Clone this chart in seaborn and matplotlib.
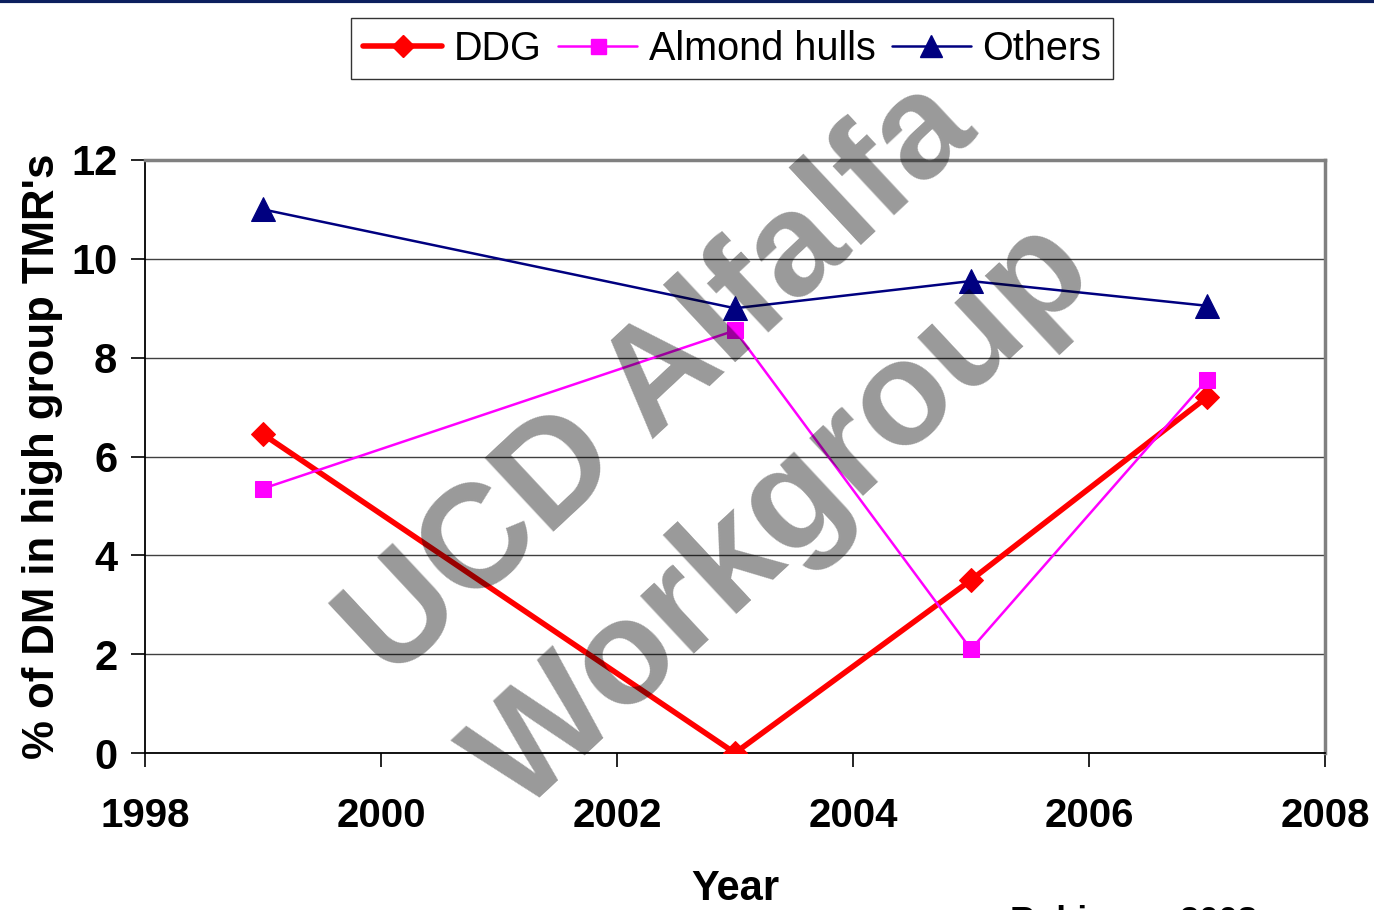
import matplotlib
matplotlib.use("Agg")
import matplotlib.pyplot as plt
import seaborn as sns
import pandas as pd
from matplotlib.lines import Line2D

# --- data ---
years = [1999, 2003, 2005, 2007]
ddg = [6.45, 0.0, 3.5, 7.2]
almond_hulls = [5.35, 8.55, 2.1, 7.55]
others = [11.0, 9.0, 9.55, 9.05]
series_names = ["DDG", "Almond hulls", "Others"]
x_ticks = [1998, 2000, 2002, 2004, 2006, 2008]
y_ticks = [0, 2, 4, 6, 8, 10, 12]

sns.set_theme(style="white")
plt.rcParams['font.family'] = ['Liberation Sans', 'DejaVu Sans']

df = pd.DataFrame({
    "Year": years * 3,
    "value": ddg + almond_hulls + others,
    "series": [n for n in series_names for _ in years],
})

styles = {
    "DDG": dict(color="#ff0000", marker="D", lw=4.0, ms=12),
    "Almond hulls": dict(color="#ff00ff", marker="s", lw=1.8, ms=12),
    "Others": dict(color="#000080", marker="^", lw=1.8, ms=17),
}

fig = plt.figure(figsize=(13.74, 9.10), dpi=100)
ax = fig.add_axes([0.1055, 0.1725, 0.8588, 0.6517])

for name in series_names:
    st = styles[name]
    sub = df[df["series"] == name]
    sns.lineplot(data=sub, x="Year", y="value", ax=ax, color=st["color"],
                 lw=st["lw"], marker=st["marker"], markersize=st["ms"],
                 markeredgecolor=st["color"], legend=False, zorder=3)

ax.set_xlim(1998, 2008)
ax.set_ylim(0, 12)
ax.set_xticks(x_ticks)
ax.set_yticks(y_ticks)
ax.set_xticklabels([str(t) for t in x_ticks], fontsize=29, fontweight="bold", color="black")
ax.set_yticklabels([str(t) for t in y_ticks], fontsize=30, fontweight="bold", color="black")
ax.tick_params(axis="both", direction="out", length=10, width=1.2, color="black",
               bottom=True, left=True)
ax.tick_params(axis="x", pad=22)
ax.tick_params(axis="y", pad=10)

ax.yaxis.grid(True, color="#404040", lw=1.0)
ax.set_axisbelow(True)
for side in ["left", "bottom"]:
    ax.spines[side].set_color("black")
    ax.spines[side].set_linewidth(1.3)
for side in ["top", "right"]:
    ax.spines[side].set_color("#808080")
    ax.spines[side].set_linewidth(2.5)

ax.set_xlabel("Year", fontsize=30, fontweight="bold", color="black", labelpad=24)
ax.set_ylabel("% of DM in high group TMR's", fontsize=31.5, fontweight="bold",
              color="black", labelpad=6)

# legend
handles = [Line2D([0], [0], color=styles[n]["color"], lw=styles[n]["lw"],
                  marker=styles[n]["marker"], ms=styles[n]["ms"] * 0.9,
                  markeredgecolor=styles[n]["color"]) for n in series_names]
leg = fig.legend(handles, series_names, loc="center", bbox_to_anchor=(0.533, 0.9467),
                 ncol=3, frameon=True, fancybox=False, fontsize=28.5,
                 handlelength=2.0, handletextpad=0.3, columnspacing=0.4,
                 borderpad=0.3)
leg.get_frame().set_edgecolor("black")
leg.get_frame().set_linewidth(1.0)
for t in leg.get_texts():
    t.set_color("black")

# top banner line
fig.add_artist(Line2D([0, 1], [0.9985, 0.9985], transform=fig.transFigure,
                      color="#0c1f5e", lw=3))

# watermark
fig.text(0.4803, 0.5813, "UCD Alfalfa", rotation=43, rotation_mode="anchor",
         ha="center", va="center", fontsize=106, fontweight="bold",
         color="black", alpha=0.4, zorder=10)
fig.text(0.5699, 0.4308, "Workgroup", rotation=43, rotation_mode="anchor",
         ha="center", va="center", fontsize=107, fontweight="bold",
         color="black", alpha=0.4, zorder=10)

# citation, cut off at bottom edge as in the original slide
fig.text(0.735, 0.006, "Robinson 2008", ha="left", va="top", fontsize=25,
         fontweight="bold", color="black")

fig.savefig("out.png", dpi=100)
